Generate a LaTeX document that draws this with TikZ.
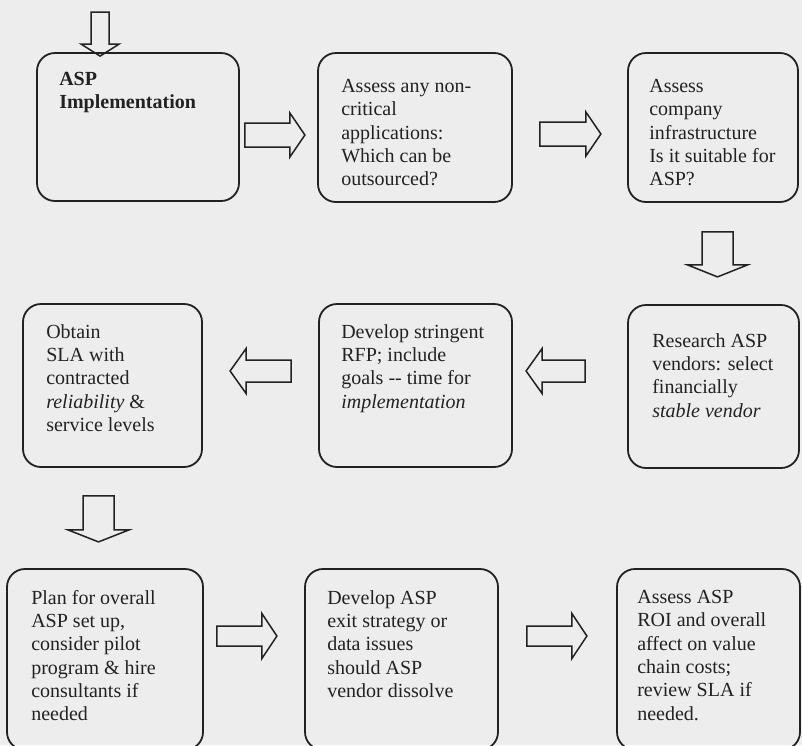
\documentclass[tikz,border=0pt]{standalone}
\usepackage{fontspec}
\setmainfont{Liberation Serif}
\usetikzlibrary{calc,fit}
\definecolor{bg}{HTML}{EDEDED}
\definecolor{ink}{HTML}{222222}
\tikzset{
  pics/blockarrow/.style args={#1/#2/#3/#4}{code={
    \draw[arrowline] (0,-#2) -- ({#1-#4},-#2) -- ({#1-#4},-#3) -- (#1,0)
      -- ({#1-#4},#3) -- ({#1-#4},#2) -- (0,#2) -- cycle;
  }}
}
\begin{document}
\begin{tikzpicture}[x=1pt,y=-1pt,
  box/.style={draw=ink, line width=1.8pt, rounded corners=18pt, inner sep=0pt},
  txt/.style={anchor=north west, inner sep=0pt, align=left, text=ink,
              font=\fontsize{20}{23.3}\selectfont},
  arrowline/.style={draw=ink, line width=1.5pt, line join=miter},
]
\useasboundingbox (0,0) rectangle (802,745);
\fill[bg] (0,0) rectangle (802,745);

% boxes
\node[box, fit={(37,53) (239,201)}] (b1) {};
\node[box, fit={(318,53) (512,202)}] (b2) {};
\node[box, fit={(628,53) (798,202)}] (b3) {};
\node[box, fit={(23,304) (202,467)}] (b4) {};
\node[box, fit={(319,304) (512,467)}] (b5) {};
\node[box, fit={(628,305) (799,468)}] (b6) {};
\node[box, fit={(7,569) (203,750)}] (b7) {};
\node[box, fit={(305,569) (498,750)}] (b8) {};
\node[box, fit={(617,569) (800,750)}] (b9) {};

% texts
\node[txt, font=\fontsize{20}{23.3}\selectfont\bfseries] (t1) at ($(b1.north west)+(23,20)$) {ASP\\Implementation};
\node[txt] (t2) at ($(b2.north west)+(24,27)$) {Assess any non-\\critical\\applications:\\Which can be\\outsourced?};
\node[txt] (t3) at ($(b3.north west)+(22,27)$) {Assess\\company\\infrastructure\\Is it suitable for\\ASP?};
\node[txt] (t4) at ($(b4.north west)+(24,21)$) {Obtain\\SLA with\\contracted\\\textit{reliability} \&\\service levels};
\node[txt] (t5) at ($(b5.north west)+(23,21)$) {Develop stringent\\RFP; include\\goals -{}- time for\\\textit{implementation}};
\node[txt] (t6) at ($(b6.north west)+(25,29)$) {Research ASP\\vendors: select\\financially\\\textit{stable vendor}};
\node[txt] (t7) at ($(b7.north west)+(25,22)$) {Plan for overall\\ASP set up,\\consider pilot\\program \& hire\\consultants if\\needed};
\node[txt] (t8) at ($(b8.north west)+(23,22)$) {Develop ASP\\exit strategy or\\data issues\\should ASP\\vendor dissolve};
\node[txt] (t9) at ($(b9.north west)+(21,22)$) {Assess ASP\\ROI and overall\\affect on value\\chain costs;\\review SLA if\\needed.};

% block arrows
\pic[rotate=-90] at ($(b1.north west)+(64,-40)$) {blockarrow=44/9/19/12};
\pic at ($(b1.east)+(5,8)$) {blockarrow=60/12/22/15};
\pic at ($(b2.east)+(27,6.5)$) {blockarrow=61/12/22/15};
\pic[rotate=-90] at ($(b3.south)+(4.5,29)$) {blockarrow=45/15.5/30/12};
\pic[rotate=180] at ($(b5.west)+(-27,-14.5)$) {blockarrow=61/11/22.5/16};
\pic[rotate=180] at ($(b6.west)+(-42,-15.5)$) {blockarrow=59/11/22.5/16};
\pic[rotate=-90] at ($(b4.south)+(-14,28)$) {blockarrow=46/15.5/30.5/12};
\pic at ($(b7.east)+(13,-23.5)$) {blockarrow=60/10/22.5/15};
\pic at ($(b8.east)+(28,-23.5)$) {blockarrow=60/10/22.5/15};
\end{tikzpicture}
\end{document}
